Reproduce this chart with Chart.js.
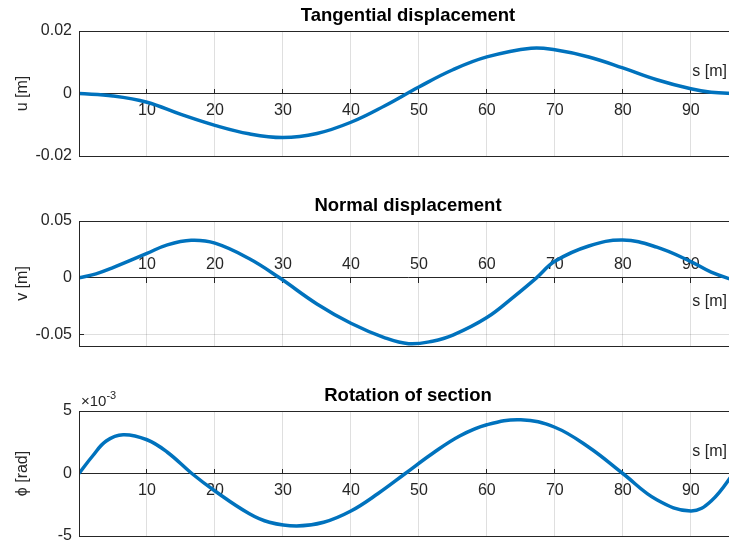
<!DOCTYPE html>
<html>
<head>
<meta charset="utf-8">
<script src="https://cdn.jsdelivr.net/npm/chart.js@4.4.0/dist/chart.umd.min.js"></script>
<style>
  html, body { margin: 0; padding: 0; background: #fff; overflow: hidden; }
  body { width: 729px; height: 552px; position: relative; }
  canvas { position: absolute; left: 0; }
</style>
</head>
<body>
<canvas id="uChart" width="740" height="190" style="top:0px"></canvas>
<canvas id="vChart" width="740" height="190" style="top:190px"></canvas>
<canvas id="phiChart" width="740" height="190" style="top:380px"></canvas>
<script>
var FONT = '"Liberation Sans", Arial, Helvetica, sans-serif';
var LINE_COLOR = '#0072bd';
var AXIS_COLOR = '#262626';
var GRID_COLOR = 'rgba(38,38,38,0.15)';

// arc length axis
var sTicks = [10, 20, 30, 40, 50, 60, 70, 80, 90];
var sMax = 96.8;

// tangential displacement u [m]
var uS = [0, 5, 10, 15, 20, 25, 30, 35, 40, 45, 50, 55, 60, 66.5, 70, 75, 80, 85, 90, 93, 96.8];
var uVals = [0, -0.0008, -0.0028, -0.0067, -0.0102, -0.0129, -0.0141, -0.0128, -0.0092, -0.0039, 0.0021, 0.0076, 0.0117, 0.0145, 0.0140, 0.0117, 0.0082, 0.0044, 0.0015, 0.0004, 0];
var uTicks = [-0.02, 0, 0.02];

// normal displacement v [m]
var vS = [0, 2.5, 5, 10, 13, 16.5, 20, 25, 29.5, 35, 40, 45, 48.5, 52, 55, 60, 64, 67.3, 70, 75, 80, 85, 90, 93, 96.8];
var vVals = [0, 0.0035, 0.009, 0.0215, 0.029, 0.0330, 0.0305, 0.017, 0, -0.023, -0.040, -0.0528, -0.0580, -0.0558, -0.0505, -0.035, -0.0165, 0, 0.0145, 0.028, 0.0333, 0.027, 0.0143, 0.005, -0.003];
var vTicks = [-0.05, 0, 0.05];

// rotation of section phi [rad]
var phiS = [0, 2, 4, 6.5, 10, 13, 16.6, 20, 25, 28, 32, 36, 40, 44, 48, 52, 56, 60, 65, 70, 75, 80, 85, 90, 93, 96.8];
var phiVals = [0, 0.0014, 0.0026, 0.0031, 0.0027, 0.0017, 0, -0.0014, -0.0032, -0.0039, -0.0042, -0.0039, -0.0030, -0.0016, 0, 0.0016, 0.0030, 0.0039, 0.0043, 0.0037, 0.0021, 0, -0.0021, -0.0030, -0.0022, 0.0004];
var phiTicks = [-0.005, 0, 0.005];

// box round the axes, the "s [m]" label and the exponent note
var axesBox = {
  id: 'axesBox',
  afterDraw: function(chart) {
    var a = chart.chartArea;
    var ctx = chart.ctx;
    var o = chart.options.plugins.axesBox;
    ctx.save();
    ctx.strokeStyle = AXIS_COLOR;
    ctx.lineWidth = 1;
    ctx.strokeRect(Math.round(a.left) + 0.5, Math.round(a.top) + 0.5,
      Math.round(a.right - a.left), Math.round(a.bottom - a.top));
    ctx.fillStyle = AXIS_COLOR;
    ctx.font = '16px ' + FONT;
    ctx.textAlign = 'right';
    ctx.textBaseline = 'middle';
    ctx.fillText('s [m]', a.right - 10, chart.scales.y.getPixelForValue(0) + o.labelOffset);
    if (o.exponent) {
      ctx.textAlign = 'left';
      ctx.textBaseline = 'alphabetic';
      ctx.font = '15px ' + FONT;
      ctx.fillText('\u00d710', a.left + 2, a.top - 5);
      var w = ctx.measureText('\u00d710').width;
      ctx.font = '11px ' + FONT;
      ctx.fillText(o.exponent, a.left + 2 + w, a.top - 12);
    }
    ctx.restore();
  }
};

function makeChart(id, title, yTitle, xs, ys, yMin, yMax, yTicks, yLabel, xTickLen, xTickPad, labelOffset, exponent) {
  var points = [];
  for (var i = 0; i < xs.length; i++) {
    points.push({ x: xs[i], y: ys[i] });
  }

  return new Chart(document.getElementById(id), {
    type: 'line',
    data: {
      datasets: [{
        data: points,
        borderColor: LINE_COLOR,
        borderWidth: 3.5,
        pointRadius: 0,
        fill: false,
        tension: 0.4
      }]
    },
    options: {
      responsive: false,
      animation: false,
      layout: { padding: { left: 0, right: 3, top: 0, bottom: 34 } },
      plugins: {
        legend: { display: false },
        tooltip: { enabled: false },
        title: {
          display: true,
          text: title,
          fullSize: false,
          color: '#000',
          font: { family: FONT, size: 18.5, weight: 'bold' },
          padding: { top: 5, bottom: 3.8 }
        },
        axesBox: { labelOffset: labelOffset, exponent: exponent }
      },
      scales: {
        x: {
          type: 'linear',
          position: { y: 0 },
          min: 0,
          max: sMax,
          afterBuildTicks: function(scale) {
            scale.ticks = sTicks.map(function(v) { return { value: v }; });
          },
          grid: { color: GRID_COLOR, tickColor: AXIS_COLOR, tickLength: xTickLen },
          border: { color: AXIS_COLOR, width: 1 },
          ticks: {
            color: AXIS_COLOR,
            padding: xTickPad,
            maxRotation: 0,
            font: { family: FONT, size: 16 },
            callback: function(v) { return String(v); }
          }
        },
        y: {
          type: 'linear',
          min: yMin,
          max: yMax,
          afterBuildTicks: function(scale) {
            scale.ticks = yTicks.map(function(v) { return { value: v }; });
          },
          afterFit: function(scale) {
            scale.width = 79;
            scale.paddingTop = 0;
            scale.paddingBottom = 0;
          },
          grid: { color: GRID_COLOR, tickColor: AXIS_COLOR, tickLength: -5 },
          border: { color: AXIS_COLOR, width: 1 },
          title: {
            display: true,
            text: yTitle,
            color: AXIS_COLOR,
            font: { family: FONT, size: 16 },
            padding: { top: 13, bottom: 0 }
          },
          ticks: {
            color: AXIS_COLOR,
            padding: 12,
            font: { family: FONT, size: 16 },
            callback: yLabel
          }
        }
      }
    },
    plugins: [axesBox]
  });
}

function plainLabel(v) { return String(v); }
function milliLabel(v) { return String(Math.round(v * 1000)); }

makeChart('uChart', 'Tangential displacement', 'u [m]', uS, uVals, -0.02, 0.02, uTicks, plainLabel, -5, 12.4, -22, null);
makeChart('vChart', 'Normal displacement', 'v [m]', vS, vVals, -0.06, 0.05, vTicks, plainLabel, 5, -27.6, 24, null);
makeChart('phiChart', 'Rotation of section', '\u03d5 [rad]', phiS, phiVals, -0.005, 0.005, phiTicks, milliLabel, -5, 12.8, -22, '-3');
</script>
</body>
</html>
